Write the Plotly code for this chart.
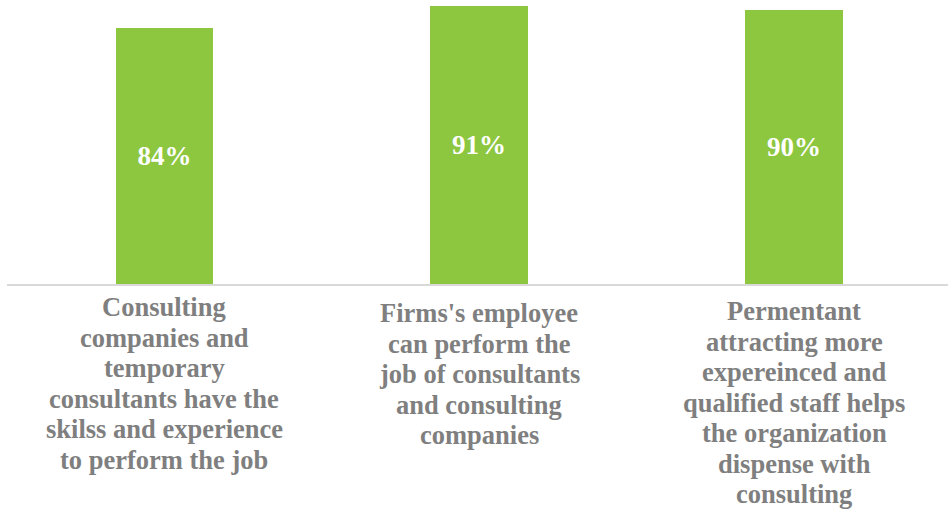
import plotly.graph_objects as go

categories = [
    ["Consulting", "companies and", "temporary", "consultants have the",
     "skilss and experience", "to perform the job"],
    ["Firms's employee", "can perform the", "job of consultants",
     "and consulting", "companies"],
    ["Permentant", "attracting more", "expereinced and", "qualified staff helps",
     "the organization", "dispense with", "consulting"],
]
values = [84, 91, 90]
value_labels = ["84%", "91%", "90%"]

W, H = 948, 510
left = 6.5
base_y = 284
px_per_cat = 315
px_per_pct = 3.05

# layout constants for the multi-line category labels (px below the axis)
first_line_center = [23, 29, 27]
line_step = 30.5

fig = go.Figure(go.Bar(
    x=[0, 1, 2],
    y=values,
    text=value_labels,
    textposition="inside",
    insidetextanchor="middle",
    textangle=0,
    textfont=dict(family="Liberation Serif", size=27, color="white", weight="bold"),
    marker=dict(color="#8dc63f", line=dict(width=0)),
    width=0.31,
    hoverinfo="skip",
))

annotations = []
for i, lines in enumerate(categories):
    for k, line in enumerate(lines):
        annotations.append(dict(
            x=i, xref="x", y=0, yref="paper",
            text=line, showarrow=False,
            xanchor="center", yanchor="middle",
            yshift=-(first_line_center[i] + k * line_step),
            font=dict(family="Liberation Serif", size=26.5, color="#7f7f7f", weight="bold"),
        ))

fig.update_layout(
    width=W, height=H,
    margin=dict(l=left, r=0, t=0, b=H - base_y, pad=0),
    plot_bgcolor="white", paper_bgcolor="white",
    showlegend=False,
    bargap=0,
    annotations=annotations,
)
fig.update_xaxes(
    range=[-0.5, -0.5 + (W - left) / px_per_cat],
    showticklabels=False, automargin=False,
    showline=True, linecolor="#d9d9d9", linewidth=1.5,
    showgrid=False, zeroline=False, ticks="",
)
fig.update_yaxes(
    range=[0, base_y / px_per_pct], automargin=False,
    visible=False, showgrid=False, zeroline=False,
)

fig.write_html(
    "out.html",
    config={"displayModeBar": False},
    post_script="document.body.style.margin='0px';",
)
